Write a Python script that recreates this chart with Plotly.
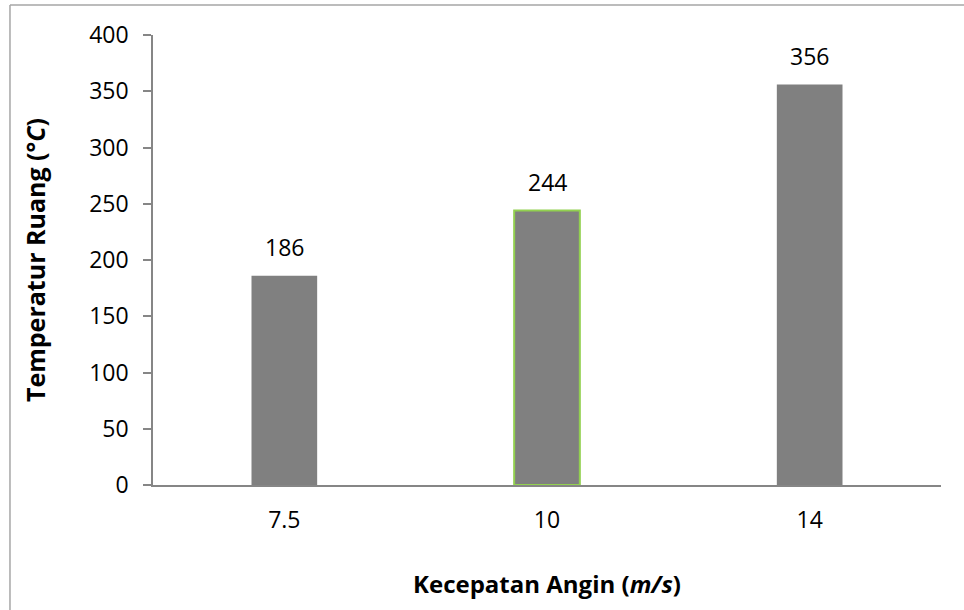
import plotly.graph_objects as go

# Wind speed categories and measured room temperature
wind_speed = ["7.5", "10", "14"]
room_temp = [186, 244, 356]
y_ticks = [0, 50, 100, 150, 200, 250, 300, 350, 400]

bar_fill = "#808080"
outline_colors = ["#808080", "#92D050", "#808080"]
axis_gray = "#868686"
font_family = "'Open Sans', Lato, sans-serif"

fig = go.Figure()
fig.add_trace(go.Bar(
    x=wind_speed,
    y=room_temp,
    width=0.25,
    marker=dict(color=bar_fill, line=dict(color=outline_colors, width=[0, 2, 0])),
    hoverinfo="x+y",
))

# Value labels above each bar (positioned by category index)
for idx, val in enumerate(room_temp):
    fig.add_annotation(
        x=idx, y=val, text=str(val), showarrow=False,
        yanchor="bottom", yshift=11,
        font=dict(family=font_family, size=23, color="#000000"),
    )

# Outer chart frame (top and left edges visible)
fig.add_shape(type="line", xref="paper", yref="paper",
              x0=-0.1815, x1=1.2, y0=1.0667, y1=1.0667,
              line=dict(color="#a6a6a6", width=1.5))
fig.add_shape(type="line", xref="paper", yref="paper",
              x0=-0.1815, x1=-0.1815, y0=-0.5, y1=1.0667,
              line=dict(color="#a6a6a6", width=1.5))

fig.update_layout(
    width=964, height=610,
    margin=dict(l=153, r=23, t=35, b=125),
    plot_bgcolor="white", paper_bgcolor="white",
    showlegend=False,
    font=dict(family=font_family, size=23, color="#000000"),
    xaxis=dict(
        type="category", range=[-0.5, 2.5],
        showline=True, linecolor=axis_gray, linewidth=1.5,
        ticks="", ticklabelstandoff=14,
        tickfont=dict(size=23),
        title=dict(text="<b>Kecepatan Angin (<i>m/s</i>)</b>",
                   font=dict(size=24), standoff=42),
        showgrid=False, zeroline=False,
    ),
    yaxis=dict(
        range=[0, 400], tickvals=y_ticks,
        showline=True, linecolor=axis_gray, linewidth=1.5,
        ticks="outside", ticklen=8, tickcolor=axis_gray, tickwidth=1.5,
        ticklabelstandoff=10,
        tickfont=dict(size=23),
        title=dict(text="<b>Temperatur Ruang (°<i>C</i>)</b>",
                   font=dict(size=25), standoff=36),
        showgrid=False, zeroline=False,
    ),
)

fig.write_html("out.html")
